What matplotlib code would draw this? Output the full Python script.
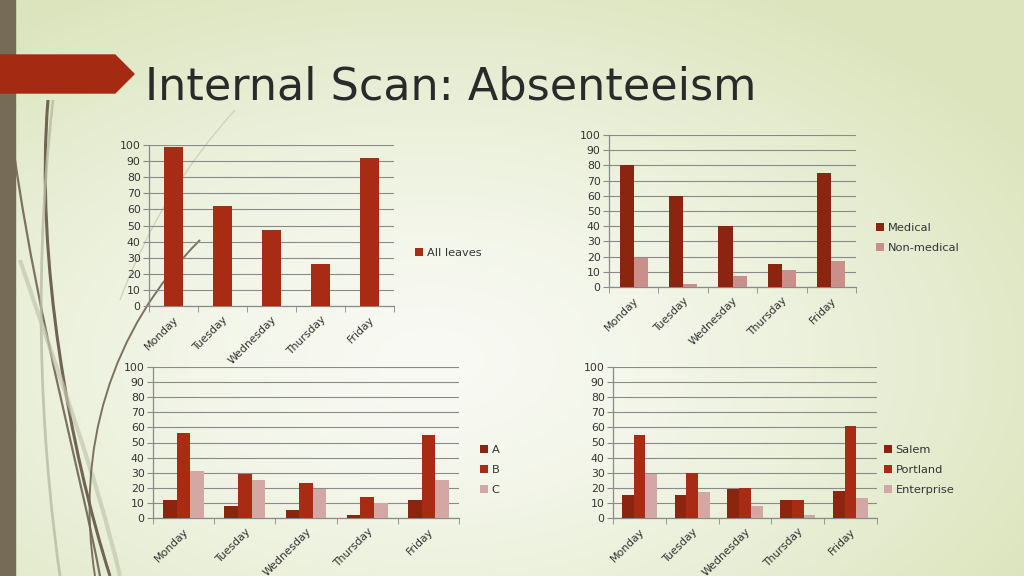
import numpy as np
import matplotlib
matplotlib.use("Agg")
import matplotlib.pyplot as plt
from matplotlib.path import Path
from matplotlib.patches import PathPatch, Polygon, Rectangle

days = ["Monday", "Tuesday", "Wednesday", "Thursday", "Friday"]

all_leaves = [99, 62, 47, 26, 92]

medical = [80, 60, 40, 15, 75]
non_medical = [19, 2, 7, 11, 17]

grp_a = [12, 8, 5, 2, 12]
grp_b = [56, 29, 23, 14, 55]
grp_c = [31, 25, 19, 10, 25]

salem = [15, 15, 19, 12, 18]
portland = [55, 30, 20, 12, 61]
enterprise = [29, 17, 8, 2, 13]

W, H = 1024, 576
DARK = "#8c2510"
RUST = "#a82c14"
PINK = "#c98f8b"
LIGHT_PINK = "#d3a8a4"
GRID = "#8a8a8a"
TXT = "#333333"


def px_box(x0, y0, x1, y1):
    return [x0 / W, 1 - y1 / H, (x1 - x0) / W, (y1 - y0) / H]


def draw_background(fig):
    bg = fig.add_axes([0, 0, 1, 1], zorder=-10)
    yy, xx = np.mgrid[0:H, 0:W]
    d = np.sqrt(((xx - 430) / 700.0) ** 2 + ((yy - 360) / 420.0) ** 2)
    d = np.clip(d, 0, 1) ** 1.4
    inner = np.array([0.975, 0.98, 0.955])
    outer = np.array([0.86, 0.895, 0.74])
    img = inner[None, None, :] * (1 - d[..., None]) + outer[None, None, :] * d[..., None]
    bg.imshow(img, extent=(0, W, H, 0), aspect="auto")
    bg.set_xlim(0, W)
    bg.set_ylim(H, 0)
    bg.axis("off")

    # decorative swooshes
    curves = [
        ([(48, 100), (35, 260), (70, 450), (110, 576)], "#6f6552", 2.2, 1.0),
        ([(15, 160), (40, 330), (80, 470), (100, 576)], "#6f6552", 1.6, 0.9),
        ([(53, 100), (30, 300), (45, 470), (60, 576)], "#b9bca3", 2.0, 0.8),
        ([(20, 260), (60, 380), (95, 470), (120, 576)], "#c4c7ad", 3.0, 0.7),
        ([(200, 240), (110, 330), (75, 450), (95, 576)], "#6f6552", 1.4, 0.9),
        ([(235, 110), (190, 160), (150, 220), (120, 300)], "#c9ccb4", 1.0, 0.8),
    ]
    for pts, col, lw, a in curves:
        path = Path(pts, [Path.MOVETO, Path.CURVE4, Path.CURVE4, Path.CURVE4])
        bg.add_patch(PathPatch(path, fill=False, edgecolor=col, lw=lw, alpha=a))

    # left bar and title banner
    bg.add_patch(Rectangle((0, 0), 15, H, color="#756b57"))
    bg.add_patch(Polygon([(0, 55), (115, 55), (134, 74), (115, 93), (0, 93)],
                         closed=True, color="#a52a12"))


def style_axes(ax, n):
    ax.set_ylim(0, 100)
    ax.set_yticks(range(0, 101, 10))
    ax.set_xlim(-0.5, n - 0.5)
    ax.set_xticks(range(n))
    ax.set_xticklabels(days, rotation=45, ha="right", rotation_mode="anchor",
                       fontsize=7.8, color=TXT)
    ax.set_xticks(np.arange(-0.5, n, 1.0), minor=True)
    ax.tick_params(axis="x", which="major", length=0, pad=6)
    ax.tick_params(axis="x", which="minor", length=4, color=GRID)
    ax.tick_params(axis="y", length=4, color=GRID, labelsize=7.8,
                   labelcolor=TXT, pad=2)
    ax.grid(axis="y", color=GRID, lw=0.8)
    ax.set_axisbelow(True)
    ax.set_facecolor("none")
    for s in ("top", "right"):
        ax.spines[s].set_visible(False)
    for s in ("left", "bottom"):
        ax.spines[s].set_color(GRID)
        ax.spines[s].set_linewidth(0.9)


def grouped(ax, series, colors, labels, gap=1.5):
    k = len(series)
    width = 1.0 / (k + gap)
    x = np.arange(len(days))
    for i, (vals, col, lab) in enumerate(zip(series, colors, labels)):
        off = (i - (k - 1) / 2) * width
        ax.bar(x + off, vals, width=width, color=col, label=lab, zorder=3)
    style_axes(ax, len(days))


def add_legend(fig, ax, x, y, spacing=0.85):
    ax.legend(loc="center left", bbox_to_anchor=(x / W, 1 - y / H),
              bbox_transform=fig.transFigure, frameon=False, fontsize=8.2,
              handlelength=0.7, handleheight=0.7, handletextpad=0.3,
              labelspacing=spacing, labelcolor=TXT)


fig = plt.figure(figsize=(W / 100, H / 100), dpi=100)
draw_background(fig)

fig.text(145 / W, 1 - 100 / H, "Internal Scan: Absenteeism", fontsize=32,
         color="#2a2a2a", family="DejaVu Sans", va="baseline", ha="left")

ax1 = fig.add_axes(px_box(149, 145, 394, 306))
grouped(ax1, [all_leaves], [RUST], ["All leaves"])
add_legend(fig, ax1, 405, 253)

ax2 = fig.add_axes(px_box(609, 135, 856, 287))
grouped(ax2, [medical, non_medical], [DARK, PINK], ["Medical", "Non-medical"])
add_legend(fig, ax2, 866, 238)

ax3 = fig.add_axes(px_box(153, 367, 459, 518))
grouped(ax3, [grp_a, grp_b, grp_c], [DARK, RUST, LIGHT_PINK], ["A", "B", "C"])
add_legend(fig, ax3, 470, 470)

ax4 = fig.add_axes(px_box(613, 367, 877, 518))
grouped(ax4, [salem, portland, enterprise], [DARK, RUST, LIGHT_PINK],
        ["Salem", "Portland", "Enterprise"])
add_legend(fig, ax4, 874, 470)

fig.savefig("out.png", dpi=100)
